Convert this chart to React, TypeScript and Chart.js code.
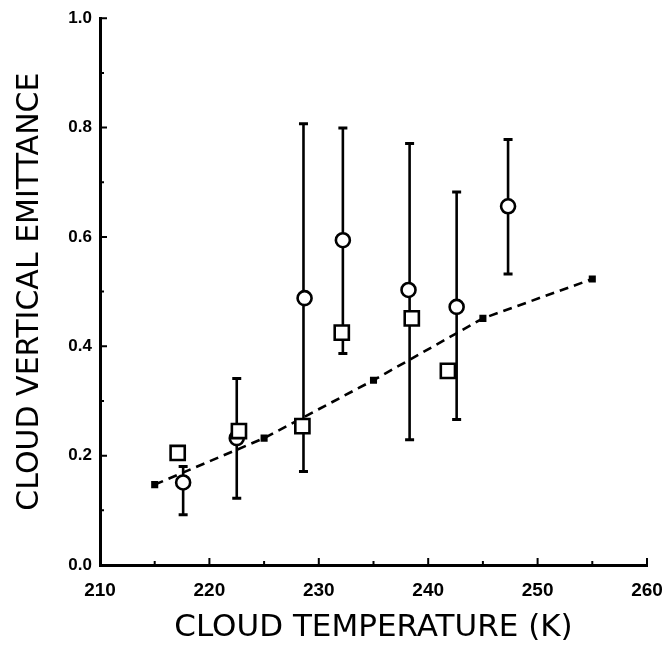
import React, { useEffect, useRef } from "react";
import { Chart, registerables } from "chart.js";

Chart.register(...registerables);

// Dashed reference curve (filled small squares)
const lineX = [215, 225, 235, 245, 255];
const lineY = [0.147, 0.232, 0.338, 0.451, 0.523];

// Open circles
const circleX = [217.6, 222.5, 228.7, 232.2, 238.2, 242.6, 247.3];
const circleY = [0.151, 0.232, 0.488, 0.594, 0.503, 0.472, 0.656];

// Open squares
const squareX = [217.1, 222.7, 228.5, 232.1, 238.5, 241.8];
const squareY = [0.205, 0.245, 0.254, 0.425, 0.451, 0.355];

// Error bars: x, low, high
const errX = [217.6, 222.5, 228.6, 232.2, 238.3, 242.6, 247.3];
const errLow = [0.092, 0.122, 0.171, 0.387, 0.229, 0.266, 0.532];
const errHigh = [0.18, 0.341, 0.807, 0.799, 0.771, 0.682, 0.778];

const xMajor = [220, 230, 240, 250, 260];
const xMinor = [215, 225, 235, 245, 255];
const yMajor = [0.2, 0.4, 0.6, 0.8, 1.0];
const yMinor = [0.1, 0.3, 0.5, 0.7, 0.9];

const TICK_FONT = "'Liberation Sans', Arial, Helvetica, sans-serif";
const TITLE_FONT = "'DejaVu Sans', 'Liberation Sans', sans-serif";

const pts = (xs: number[], ys: number[]) => xs.map((x, i) => ({ x, y: ys[i] }));

const decorPlugin = {
  id: "decor",
  beforeDatasetsDraw(chart: any) {
    const { ctx, scales } = chart;
    const xs = scales.x;
    const ys = scales.y;
    ctx.save();
    ctx.strokeStyle = "#000";
    ctx.lineCap = "butt";
    // error bars
    for (let i = 0; i < errX.length; i++) {
      const px = xs.getPixelForValue(errX[i]);
      const p1 = ys.getPixelForValue(errLow[i]);
      const p2 = ys.getPixelForValue(errHigh[i]);
      ctx.lineWidth = 2.6;
      ctx.beginPath();
      ctx.moveTo(px, p1);
      ctx.lineTo(px, p2);
      ctx.stroke();
      ctx.lineWidth = 3;
      ctx.beginPath();
      ctx.moveTo(px - 4.5, p1);
      ctx.lineTo(px + 4.5, p1);
      ctx.moveTo(px - 4.5, p2);
      ctx.lineTo(px + 4.5, p2);
      ctx.stroke();
    }
    // inward tick marks
    const y0 = ys.getPixelForValue(0);
    const x0 = xs.getPixelForValue(210);
    ctx.lineWidth = 2;
    ctx.beginPath();
    xMajor.forEach((v) => {
      const p = xs.getPixelForValue(v);
      ctx.moveTo(p, y0);
      ctx.lineTo(p, y0 - 7);
    });
    xMinor.forEach((v) => {
      const p = xs.getPixelForValue(v);
      ctx.moveTo(p, y0);
      ctx.lineTo(p, y0 - 4);
    });
    yMajor.forEach((v) => {
      const p = ys.getPixelForValue(v);
      ctx.moveTo(x0, p);
      ctx.lineTo(x0 + 7, p);
    });
    yMinor.forEach((v) => {
      const p = ys.getPixelForValue(v);
      ctx.moveTo(x0, p);
      ctx.lineTo(x0 + 4, p);
    });
    ctx.stroke();
    ctx.restore();
  },
};

export default function App() {
  const ref = useRef<HTMLCanvasElement | null>(null);
  useEffect(() => {
    if (!ref.current) return;
    const chart = new Chart(ref.current, {
      type: "scatter",
      data: {
        datasets: [
          {
            label: "squares",
            data: pts(squareX, squareY),
            pointStyle: "rect",
            pointRadius: 10,
            pointBackgroundColor: "#fff",
            pointBorderColor: "#000",
            pointBorderWidth: 2.6,
            showLine: false,
          },
          {
            label: "circles",
            data: pts(circleX, circleY),
            pointStyle: "circle",
            pointRadius: 7,
            pointBackgroundColor: "#fff",
            pointBorderColor: "#000",
            pointBorderWidth: 2.6,
            showLine: false,
          },
          {
            label: "curve",
            data: pts(lineX, lineY),
            showLine: true,
            borderColor: "#000",
            borderWidth: 2.6,
            borderDash: [9, 6],
            pointStyle: "rect",
            pointRadius: 5,
            pointBackgroundColor: "#000",
            pointBorderColor: "#000",
            pointBorderWidth: 0,
          },
        ],
      },
      options: {
        animation: false,
        responsive: false,
        layout: { padding: { left: 0, top: 17, right: 20, bottom: 0 } },
        plugins: { legend: { display: false }, tooltip: { enabled: false } },
        scales: {
          x: {
            type: "linear",
            min: 210,
            max: 260,
            afterFit: (s: any) => {
              s.height = 82;
              s.paddingRight = 10;
              s.paddingLeft = 10;
            },
            grid: { display: false, drawTicks: false },
            border: { display: true, color: "#000", width: 3 },
            ticks: {
              stepSize: 10,
              padding: 14,
              color: "#000",
              font: { family: TICK_FONT, size: 19, weight: "bold" },
              callback: (v: any) => String(v),
            },
            title: {
              display: true,
              text: "CLOUD TEMPERATURE (K)",
              color: "#000",
              font: { family: TITLE_FONT, size: 31, weight: "normal" },
              padding: { top: 0, bottom: 0 },
            },
          },
          y: {
            type: "linear",
            min: 0,
            max: 1,
            afterFit: (s: any) => {
              s.width = 100;
            },
            grid: { display: false, drawTicks: false },
            border: { display: true, color: "#000", width: 3 },
            ticks: {
              stepSize: 0.2,
              padding: 8,
              color: "#000",
              font: { family: TICK_FONT, size: 17, weight: "bold" },
              callback: (v: any) => Number(v).toFixed(1),
            },
            title: {
              display: true,
              text: "CLOUD VERTICAL EMITTANCE",
              color: "#000",
              font: { family: TITLE_FONT, size: 30, weight: "normal" },
              padding: { top: 12, bottom: 0 },
            },
          },
        },
      },
      plugins: [decorPlugin],
    });
    return () => chart.destroy();
  }, []);
  return (
    <div style={{ position: "absolute", left: 0, top: 0, width: 667, height: 647, background: "#fff" }}>
      <canvas ref={ref} width={667} height={647} style={{ display: "block" }} />
    </div>
  );
}
